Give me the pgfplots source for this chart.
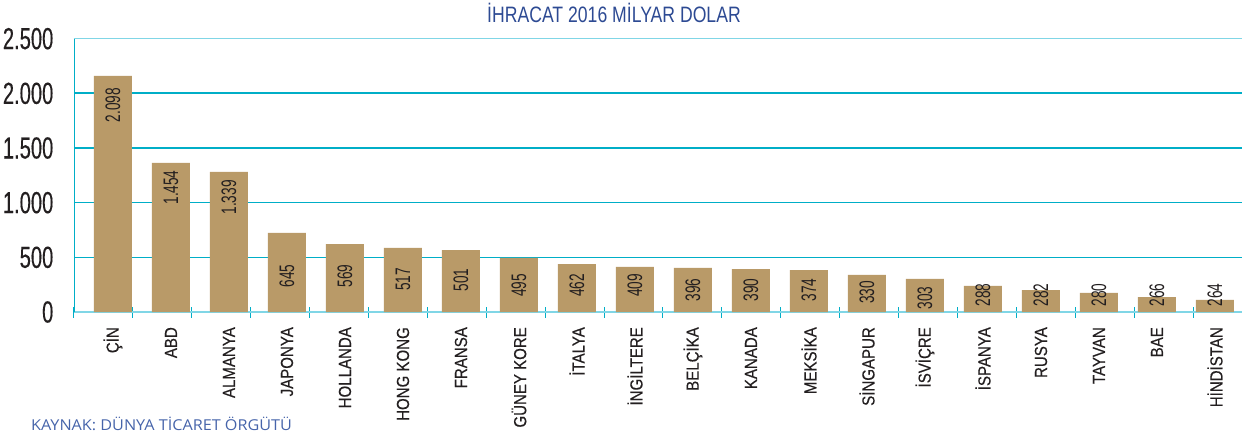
\documentclass[border=0pt]{standalone}
\usepackage{pgfplots}
\pgfplotsset{compat=1.18}
\usepackage{pgfplotstable}
\usepackage{fontspec}
\setmainfont{Liberation Sans}
\newfontfamily\numfont{Liberation Sans}[FakeStretch=0.66, FakeBold=0.25]
\newfontfamily\barfont{Liberation Sans}[FakeStretch=0.65]
\newfontfamily\catfont{Liberation Sans}[FakeStretch=0.86, FakeBold=0.3]
\newfontfamily\titlefont{Liberation Sans}[FakeStretch=0.79]
\newfontfamily\footfont{Open Sans}[FakeStretch=1.08]
\definecolor{barc}{RGB}{185,154,104}
\definecolor{cyanD}{RGB}{0,174,199}
\definecolor{cyanL}{RGB}{128,214,230}
\definecolor{titlec}{RGB}{45,74,147}
\definecolor{footc}{RGB}{70,100,170}
\definecolor{textc}{RGB}{35,31,32}

\pgfplotstableread{
x h ly lab
0 2159 1894 2.098
1 1363 1139 1.454
2 1281 1048 1.339
3 723 329 645
4 622 329 569
5 586 297 517
6 567 293 501
7 494 242 495
8 439 242 462
9 412 242 409
10 403 201 396
11 393 201 390
12 384 201 374
13 339 178 330
14 302 128 303
15 238 155 288
16 201 155 282
17 174 155 280
18 137 155 266
19 110 155 264
}\data

\begin{document}
\begin{tikzpicture}
\path[use as bounding box] (-74bp,-121bp) rectangle (1170bp,312bp);
\begin{axis}[
  at={(0,0)}, anchor=south west,
  scale only axis, width=1168bp, height=273.3bp,
  xmin=-0.672, xmax=19.466, ymin=0, ymax=2500,
  axis x line*=bottom, axis y line*=left,
  x axis line style={draw=cyanL, line width=2.5bp},
  y axis line style={draw=cyanD, line width=0.8bp},
  ytick={0,500,1000,2500},
  yticklabels={0,500,1.000,2.500},
  extra y ticks={1500,2000},
  extra y tick labels={1.500,2.000},
  extra y tick style={major grid style={draw=cyanD, line width=2bp}},
  ymajorgrids,
  major grid style={draw=cyanD, line width=1bp},
  ytick style={draw=none},
  yticklabel style={font=\numfont\fontsize{30.5bp}{30.5bp}\selectfont, text=textc, inner sep=0pt, xshift=-15bp},
  xtick={-0.672,0.343,1.359,2.375,3.390,4.406,5.421,6.437,7.452,8.468,9.483,10.499,11.514,12.530,13.545,14.561,15.576,16.592,17.607,18.623},
  xticklabel=\empty,
  xtick style={draw=cyanD, line width=1bp},
  major tick length=11bp,
  tick align=center,
  extra x ticks={0,1,...,19},
  extra x tick labels={ÇİN,ABD,ALMANYA,JAPONYA,HOLLANDA,HONG KONG,FRANSA,GÜNEY KORE,İTALYA,İNGİLTERE,BELÇİKA,KANADA,MEKSİKA,SİNGAPUR,İSVİÇRE,İSPANYA,RUSYA,TAYVAN,BAE,HİNDİSTAN},
  extra x tick style={xtick style={draw=none}, major tick length=0pt},
  xticklabel style={font=\catfont\fontsize{17.5bp}{17.5bp}\selectfont, text=textc, rotate=90, anchor=east, inner sep=0pt},
  xticklabel shift=15bp,
  clip=false,
]
\addplot[ybar, bar width=38bp, fill=barc, draw=none, bar shift=0pt] table[x=x, y=h] {\data};
\addplot[draw=none, mark=none, nodes near coords, point meta=explicit symbolic,
  every node near coord/.append style={rotate=90, anchor=center, inner sep=0pt, text=textc, font=\barfont\fontsize{21bp}{21bp}\selectfont}]
  table[x=x, y=ly, meta=lab] {\data};
\draw[cyanL, line width=1.5bp] (rel axis cs:0,1) -- (rel axis cs:1,1);
\end{axis}
\node[anchor=base, inner sep=0pt, text=titlec, font=\titlefont\fontsize{22.3bp}{22.3bp}\selectfont] at (540bp,289bp) {İHRACAT 2016 MİLYAR DOLAR};
\node[anchor=base west, inner sep=0pt, text=footc, font=\footfont\fontsize{15bp}{15bp}\selectfont] at (-43bp,-118.7bp) {KAYNAK: DÜNYA TİCARET ÖRGÜTÜ};
\end{tikzpicture}
\end{document}
